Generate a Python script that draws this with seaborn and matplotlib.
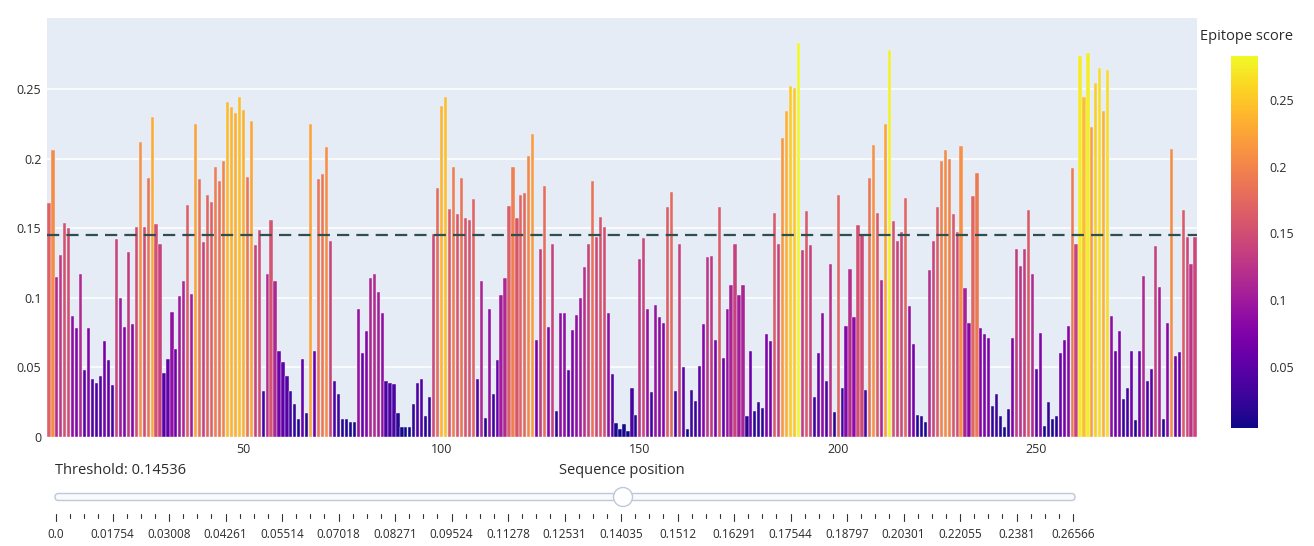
import numpy as np
import pandas as pd
import seaborn as sns
import matplotlib as mpl
import matplotlib.pyplot as plt
from matplotlib.patches import FancyBboxPatch, Circle

# Epitope score per residue
positions = list(range(1, 291))
scores = [
    0.168, 0.206, 0.115, 0.131, 0.154, 0.150, 0.087, 0.078, 0.117, 0.048,
    0.078, 0.042, 0.039, 0.044, 0.069, 0.055, 0.037, 0.142, 0.100, 0.079,
    0.133, 0.081, 0.151, 0.212, 0.151, 0.186, 0.230, 0.153, 0.139, 0.046,
    0.056, 0.090, 0.063, 0.101, 0.112, 0.167, 0.103, 0.225, 0.185, 0.140,
    0.174, 0.169, 0.194, 0.184, 0.198, 0.241, 0.237, 0.233, 0.244, 0.235,
    0.187, 0.227, 0.138, 0.149, 0.033, 0.117, 0.156, 0.112, 0.062, 0.054,
    0.044, 0.033, 0.024, 0.013, 0.056, 0.017, 0.225, 0.062, 0.185, 0.189,
    0.208, 0.141, 0.040, 0.031, 0.013, 0.013, 0.011, 0.011, 0.092, 0.060,
    0.076, 0.114, 0.117, 0.104, 0.089, 0.040, 0.039, 0.038, 0.017, 0.007,
    0.007, 0.007, 0.024, 0.039, 0.042, 0.015, 0.029, 0.146, 0.179, 0.238,
    0.244, 0.164, 0.194, 0.160, 0.186, 0.157, 0.156, 0.171, 0.042, 0.112,
    0.014, 0.092, 0.031, 0.055, 0.102, 0.114, 0.166, 0.194, 0.157, 0.174,
    0.175, 0.202, 0.218, 0.070, 0.135, 0.180, 0.079, 0.139, 0.019, 0.089,
    0.089, 0.048, 0.077, 0.088, 0.100, 0.122, 0.139, 0.184, 0.144, 0.158,
    0.151, 0.089, 0.045, 0.010, 0.006, 0.009, 0.004, 0.035, 0.016, 0.128,
    0.143, 0.092, 0.032, 0.095, 0.086, 0.082, 0.165, 0.176, 0.033, 0.139,
    0.050, 0.006, 0.034, 0.026, 0.051, 0.081, 0.129, 0.130, 0.070, 0.165,
    0.057, 0.092, 0.109, 0.139, 0.102, 0.109, 0.015, 0.062, 0.019, 0.025,
    0.021, 0.074, 0.069, 0.161, 0.139, 0.215, 0.234, 0.252, 0.251, 0.283,
    0.134, 0.162, 0.138, 0.029, 0.060, 0.089, 0.040, 0.124, 0.018, 0.174,
    0.035, 0.080, 0.121, 0.086, 0.152, 0.146, 0.034, 0.186, 0.210, 0.161,
    0.113, 0.225, 0.278, 0.155, 0.141, 0.147, 0.172, 0.094, 0.067, 0.016,
    0.015, 0.011, 0.120, 0.141, 0.165, 0.198, 0.206, 0.200, 0.160, 0.147,
    0.209, 0.107, 0.082, 0.173, 0.190, 0.078, 0.074, 0.071, 0.022, 0.031,
    0.015, 0.007, 0.020, 0.071, 0.135, 0.123, 0.135, 0.163, 0.117, 0.049,
    0.075, 0.008, 0.025, 0.013, 0.015, 0.060, 0.070, 0.080, 0.193, 0.139,
    0.274, 0.244, 0.276, 0.223, 0.254, 0.265, 0.234, 0.264, 0.087, 0.062,
    0.076, 0.027, 0.035, 0.062, 0.012, 0.062, 0.116, 0.040, 0.049, 0.137,
    0.108, 0.013, 0.082, 0.207, 0.058, 0.061, 0.163, 0.144, 0.124, 0.144,
]
threshold = 0.14536

x_ticks = [50, 100, 150, 200, 250]
y_ticks = [0, 0.05, 0.1, 0.15, 0.2, 0.25]
y_tick_labels = ["0", "0.05", "0.1", "0.15", "0.2", "0.25"]
cbar_ticks = [0.05, 0.1, 0.15, 0.2, 0.25]
cbar_tick_labels = ["0.05", "0.1", "0.15", "0.2", "0.25"]
slider_labels = ["0.0", "0.01754", "0.03008", "0.04261", "0.05514", "0.07018",
                 "0.08271", "0.09524", "0.11278", "0.12531", "0.14035", "0.1512",
                 "0.16291", "0.17544", "0.18797", "0.20301", "0.22055", "0.2381",
                 "0.26566"]
slider_active = 10

sns.set_theme(style="white")
plt.rcParams['font.family'] = ['Open Sans', 'DejaVu Sans']
txt = '#2b2b2b'

df = pd.DataFrame({"position": positions, "score": scores})
cmap = plt.get_cmap("plasma")
norm = mpl.colors.Normalize(vmin=min(scores), vmax=max(scores))
pal = {p: cmap(norm(s)) for p, s in zip(positions, scores)}

fig = plt.figure(figsize=(13.14, 5.46), dpi=100)
W, H = 1314, 546
ax = fig.add_axes([47 / W, 1 - 437 / H, 1150 / W, 419 / H])
ax.set_facecolor('#E5ECF6')

sns.barplot(data=df, x="position", y="score", hue="position", palette=pal,
            legend=False, native_scale=True, dodge=False, width=0.8,
            saturation=1, edgecolor='#EEF2F9', linewidth=0.3, ax=ax)

ax.axhline(threshold, color='#2F4F4F', lw=1.6, ls=(0, (5.5, 3.2)), zorder=5)

ax.set_xlim(0.5, 290.5)
ax.set_ylim(0, 0.301)
ax.set_xticks(x_ticks)
ax.set_xticklabels([str(t) for t in x_ticks])
ax.set_yticks(y_ticks)
ax.set_yticklabels(y_tick_labels)
ax.yaxis.grid(True, color='white', lw=1.1)
ax.xaxis.grid(False)
ax.set_axisbelow(True)
for s in ax.spines.values():
    s.set_visible(False)
ax.tick_params(axis='both', length=0, labelsize=9, colors=txt, pad=4)
ax.set_xlabel("Sequence position", fontsize=10.5, color=txt, labelpad=5)
ax.set_ylabel("")

# colorbar
cax = fig.add_axes([1231 / W, 1 - 428 / H, 27 / W, 372 / H])
sm = mpl.cm.ScalarMappable(norm=norm, cmap=cmap)
cb = fig.colorbar(sm, cax=cax)
cb.outline.set_visible(False)
cb.set_ticks(cbar_ticks)
cb.set_ticklabels(cbar_tick_labels)
cax.tick_params(length=0, labelsize=9, colors=txt, pad=8)
fig.text(1200 / W, 1 - 36 / H, "Epitope score", fontsize=10.5, color=txt,
         ha='left', va='center')

# slider widget below the chart
sax = fig.add_axes([0, 0, 1, 1], zorder=-1)
sax.set_xlim(0, W)
sax.set_ylim(H, 0)
sax.axis('off')
sax.text(55, 470, "Threshold: " + f"{threshold}", fontsize=10.5, color=txt,
         ha='left', va='center')
track = FancyBboxPatch((55, 493.5), 1020, 7, boxstyle="round,pad=0,rounding_size=3.5",
                       facecolor='#F8FAFC', edgecolor='#BEC8D9', lw=1)
sax.add_patch(track)
lab_x = np.linspace(56, 1073, len(slider_labels))
minor_x = np.linspace(56, 1073, (len(slider_labels) - 1) * 4 + 1)
for i, mx in enumerate(minor_x):
    if i % 4 == 0:
        sax.plot([mx, mx], [514, 521], color='#333333', lw=0.8)
    else:
        sax.plot([mx, mx], [514, 518], color='#333333', lw=0.8)
for lx, lab in zip(lab_x, slider_labels):
    sax.text(lx, 535, lab, fontsize=8.5, color=txt, ha='center', va='center')
handle = Circle((lab_x[slider_active] + 2, 497), 9.5, facecolor='white',
                edgecolor='#BEC8D9', lw=1, zorder=3)
sax.add_patch(handle)

fig.savefig("out.png", dpi=100, facecolor='white')
